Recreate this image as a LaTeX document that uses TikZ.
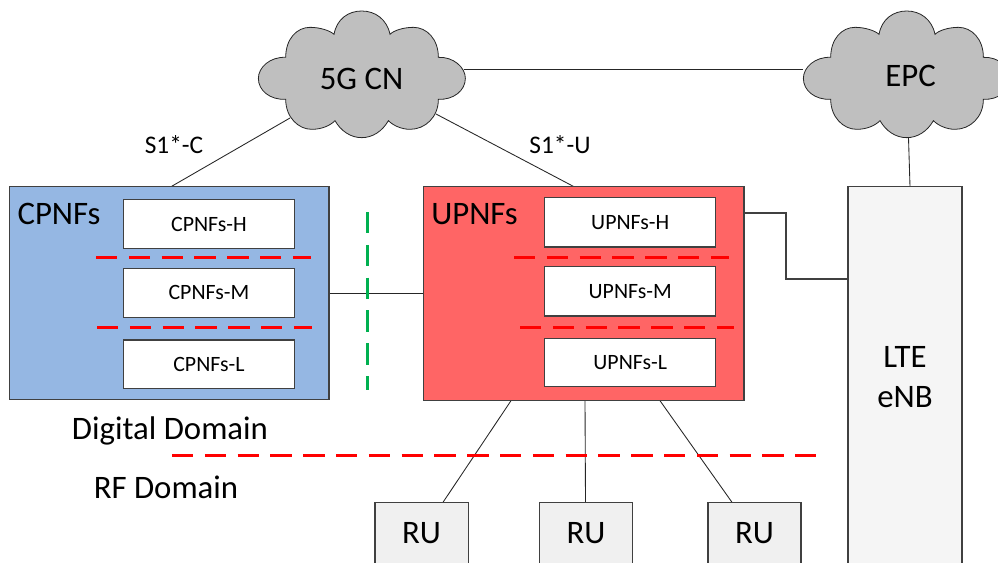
\documentclass[tikz,border=0pt]{standalone}
\usepackage{fontspec}
\setmainfont{Carlito}
\definecolor{cloudgray}{HTML}{BFBFBF}
\definecolor{cpblue}{HTML}{95B7E3}
\definecolor{upred}{HTML}{FF6565}
\definecolor{boxline}{HTML}{404040}
\definecolor{greendash}{HTML}{00B050}
\newcommand{\cloudshape}[1]{%
  \begin{scope}[shift={#1},x=0.25pt,y=-0.25pt]
    \draw[cloudline]
    (-228,-50) .. controls (-228,-105) and (-195,-140) .. (-155,-140)
    .. controls (-125,-140) and (-95,-130) .. (-83,-119)
    .. controls (-75,-165) and (-40,-189) .. (0,-189)
    .. controls (40,-189) and (75,-165) .. (85,-119)
    .. controls (95,-130) and (125,-140) .. (155,-140)
    .. controls (195,-140) and (230,-105) .. (230,-50)
    .. controls (275,-52) and (311,-20) .. (311,13)
    .. controls (311,50) and (275,78) .. (230,76)
    .. controls (230,130) and (190,166) .. (145,166)
    .. controls (120,166) and (95,155) .. (80,140)
    .. controls (62,172) and (32,191) .. (0,191)
    .. controls (-32,191) and (-62,172) .. (-80,140)
    .. controls (-95,155) and (-120,166) .. (-150,166)
    .. controls (-190,166) and (-228,130) .. (-228,76)
    .. controls (-275,78) and (-310,50) .. (-310,13)
    .. controls (-310,-20) and (-275,-52) .. (-228,-50) -- cycle;
  \end{scope}}
\newcommand{\pxbox}[7]{% name, x1, y1, x2, y2, style, text
  \pgfmathsetmacro{\bw}{(#4-#2)*0.75}\pgfmathsetmacro{\bh}{(#5-#3)*0.75}
  \node[#6,minimum width=\bw pt,minimum height=\bh pt] (#1) at ({(#2+#4)/2},{(#3+#5)/2}) {\raisebox{-0.8pt}{#7}};}
\tikzset{
  x=0.75pt,y=-0.75pt,
  cloudline/.style={draw=black!85,fill=cloudgray,line width=0.6pt},
  frame/.style={draw=boxline,line width=1.1pt,inner sep=0pt,outer sep=0pt},
  outerbox/.style={frame},
  innerbox/.style={frame,fill=white,font=\fontsize{16.4}{19}\selectfont},
  rubox/.style={frame,line width=0.9pt,fill=black!6},
  ltebox/.style={frame,fill=black!4},
  link/.style={draw=black!85,line width=0.65pt},
  wire/.style={draw=boxline,line width=0.9pt},
  reddash/.style={draw=red,line width=2pt,dash pattern=on 16pt off 8.6pt},
  greendashline/.style={draw=greendash,line width=2pt,dash pattern=on 16pt off 8.6pt},
  big/.style={font=\fontsize{24.6}{29}\selectfont,inner sep=0pt,align=center},
  small/.style={font=\fontsize{19}{23}\selectfont,inner sep=0pt},
}
\begin{document}
\begin{tikzpicture}
\useasboundingbox (0,0) rectangle (998,563);
\clip (0,0) rectangle (998,563);
% connector ends on the clouds and boxes
\coordinate (cnC) at (290,118);
\coordinate (cnU) at (436,114);
\coordinate (cnE) at (464,69);
\coordinate (epcW) at (803,69);
\coordinate (epcS) at (908.5,138);
\coordinate (cpTop) at (171,186.7);
\coordinate (upTop) at (574,186.7);
\coordinate (lteTop) at (910,186.7);
\coordinate (cpE) at (329,293);
\coordinate (upW) at (423.3,293);
\coordinate (upE) at (744,213);
\coordinate (bendA) at (786,213);
\coordinate (bendB) at (786,279);
\coordinate (lteW) at (848,279);
\coordinate (upS1) at (511,400.7);
\coordinate (upS2) at (585,400.7);
\coordinate (upS3) at (660,400.7);
\coordinate (ru1N) at (443,502.3);
\coordinate (ru2N) at (585.5,502.3);
\coordinate (ru3N) at (732,502.3);
% links
\draw[link] (cnC) -- (cpTop);
\draw[link] (cnU) -- (upTop);
\draw[link] (cnE) -- (epcW);
\draw[link] (epcS) -- (lteTop);
\draw[link] (cpE) -- (upW);
\draw[wire] (upE) -- (bendA) -- (bendB) -- (lteW);
\draw[link] (upS1) -- (ru1N);
\draw[link] (upS2) -- (ru2N);
\draw[link] (upS3) -- (ru3N);
% clouds
\cloudshape{(361.7,74)}
\cloudshape{(906.7,74)}
\node[big] (cn) at (361.5,78.5) {5G CN};
\node[big] (epc) at (910.5,75.5) {EPC};
% CPNFs
\pxbox{cpnfs}{9.5}{186.5}{329}{399.7}{outerbox,fill=cpblue}{}
\node[big] (cplabel) at (59,214) {CPNFs};
\pxbox{cph}{123.3}{199.3}{294.5}{248.7}{innerbox}{CPNFs-H}
\pxbox{cpm}{123.3}{268.3}{294.5}{317.3}{innerbox}{CPNFs-M}
\pxbox{cpl}{123.3}{340}{294.5}{388.3}{innerbox}{CPNFs-L}
% UPNFs
\pxbox{upnfs}{423.3}{186.7}{744}{400.7}{outerbox,fill=upred}{}
\node[big] (uplabel) at (474.5,214) {UPNFs};
\pxbox{uph}{544.7}{197.7}{715.7}{247}{innerbox}{UPNFs-H}
\pxbox{upm}{544.7}{266.7}{715.7}{316}{innerbox}{UPNFs-M}
\pxbox{upl}{544.7}{338.3}{715.7}{386.7}{innerbox}{UPNFs-L}
% LTE
\pxbox{lte}{848}{186.7}{962}{590}{ltebox}{}
\node[big] (ltelabel) at (905,377.5) {LTE\\[1pt]eNB};
% RU
\pxbox{ru1}{375}{502.3}{468.3}{590}{rubox}{}
\pxbox{ru2}{539.3}{502.3}{632.7}{590}{rubox}{}
\pxbox{ru3}{708}{502.3}{801}{590}{rubox}{}
\node[big] (rut1) at (421.5,533.5) {RU};
\node[big] (rut2) at (586,533.5) {RU};
\node[big] (rut3) at (754.5,533.5) {RU};
% dashes
\coordinate (ra1) at (96,257.4); \coordinate (ra2) at (311,257.4);
\coordinate (rb1) at (97,327.4); \coordinate (rb2) at (312,327.4);
\coordinate (rc1) at (514,257.4); \coordinate (rc2) at (729,257.4);
\coordinate (rd1) at (520,327.4); \coordinate (rd2) at (734,327.4);
\coordinate (re1) at (172,455.5); \coordinate (re2) at (816,455.5);
\coordinate (g1) at (367.7,212); \coordinate (g2) at (367.7,390);
\draw[reddash] (ra1) -- (ra2);
\draw[reddash] (rb1) -- (rb2);
\draw[reddash] (rc1) -- (rc2);
\draw[reddash] (rd1) -- (rd2);
\draw[reddash] (re1) -- (re2);
\draw[greendashline] (g1) -- (g2);
% labels
\node[small] (s1c) at (174,144.5) {S1*-C};
\node[small] (s1u) at (560,144.5) {S1*-U};
\node[big] (dd) at (170,431) {Digital Domain};
\node[big] (rf) at (166,487) {RF Domain};
\end{tikzpicture}
\end{document}
